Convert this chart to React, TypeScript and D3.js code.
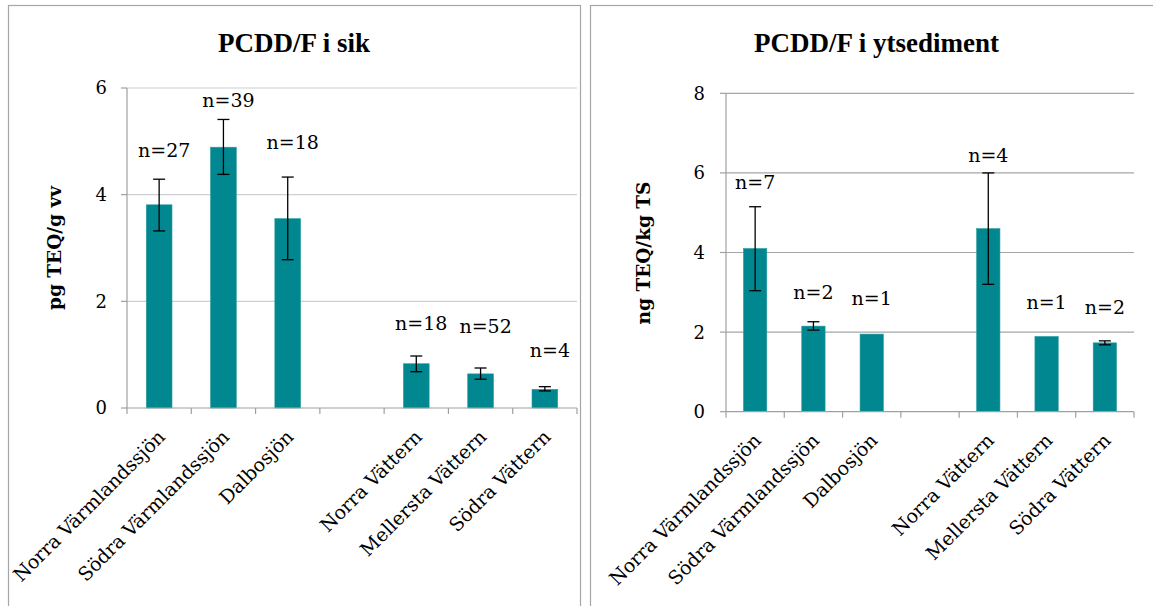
import React from "react";
import * as d3 from "d3";

const categories = [
  "Norra Värmlandssjön",
  "Södra Värmlandssjön",
  "Dalbosjön",
  "",
  "Norra Vättern",
  "Mellersta Vättern",
  "Södra Vättern",
];

// PCDD/F i sik (pg TEQ/g vv)
const fishMean: (number | null)[] = [3.81, 4.89, 3.55, null, 0.83, 0.64, 0.35];
const fishErrLow: (number | null)[] = [3.32, 4.38, 2.78, null, 0.68, 0.54, 0.32];
const fishErrHigh: (number | null)[] = [4.29, 5.41, 4.33, null, 0.975, 0.75, 0.4];
const fishN = ["n=27", "n=39", "n=18", "", "n=18", "n=52", "n=4"];
const fishLabelAt: (number | null)[] = [4.71, 5.65, 4.85, null, 1.46, 1.41, 0.96];
const fishTicks = [0, 2, 4, 6];

// PCDD/F i ytsediment (ng TEQ/kg TS)
const sedMean: (number | null)[] = [4.1, 2.15, 1.95, null, 4.6, 1.89, 1.73];
const sedErrLow: (number | null)[] = [3.04, 2.05, null, null, 3.2, null, 1.68];
const sedErrHigh: (number | null)[] = [5.15, 2.26, null, null, 6.0, null, 1.78];
const sedN = ["n=7", "n=2", "n=1", "", "n=4", "n=1", "n=2"];
const sedLabelAt: (number | null)[] = [5.59, 2.84, 2.68, null, 6.27, 2.57, 2.45];
const sedTicks = [0, 2, 4, 6, 8];

const BAR = "#00878f";
const FONT = "'DejaVu Serif', serif";

type PanelProps = {
  frame: { x: number; y: number; w: number; h: number };
  plot: { x0: number; x1: number; y0: number; y1: number };
  yMax: number;
  ticks: number[];
  title: string;
  titleX: number;
  yTitle: string;
  yTitlePos: [number, number];
  tickLabelX: number;
  labelDx: number;
  mean: (number | null)[];
  lo: (number | null)[];
  hi: (number | null)[];
  nLabels: string[];
  labelAt: (number | null)[];
  gridColor: string;
  axisColor: string;
};

function Panel(p: PanelProps) {
  const x = d3
    .scaleBand<string>()
    .domain(categories.map((_, i) => String(i)))
    .range([p.plot.x0, p.plot.x1])
    .paddingInner(0)
    .paddingOuter(0);
  const y = d3.scaleLinear().domain([0, p.yMax]).range([p.plot.y1, p.plot.y0]);
  const bw = x.bandwidth();
  const barW = bw * 0.4;
  const cap = 6;
  const boundaries = d3.range(categories.length + 1).map((i) => p.plot.x0 + i * bw);

  return (
    <g>
      <rect
        x={p.frame.x + 0.5}
        y={p.frame.y + 0.5}
        width={p.frame.w}
        height={p.frame.h}
        fill="#fff"
        stroke="#a6a6a6"
        strokeWidth={1.2}
      />
      <text
        x={p.titleX}
        y={51.5}
        textAnchor="middle"
        fontFamily="'Liberation Serif', serif"
        fontWeight="bold"
        fontSize={27}
        fill="#000"
      >
        {p.title}
      </text>
      {p.ticks.map((t) => (
        <g key={t}>
          {t > 0 && (
            <line x1={p.plot.x0} x2={p.plot.x1} y1={y(t)} y2={y(t)} stroke={p.gridColor} strokeWidth={1.2} />
          )}
          <line x1={p.plot.x0 - 6} x2={p.plot.x0} y1={y(t)} y2={y(t)} stroke={p.axisColor} strokeWidth={1.2} />
          <text
            x={p.tickLabelX}
            y={y(t)}
            dy="0.36em"
            textAnchor="end"
            fontFamily={FONT}
            fontSize={18}
            fill="#000"
          >
            {t}
          </text>
        </g>
      ))}
      <text
        transform={`translate(${p.yTitlePos[0]},${p.yTitlePos[1]}) rotate(-90)`}
        textAnchor="middle"
        dy="0.35em"
        fontFamily={FONT}
        fontWeight="bold"
        fontSize={18.5}
        fill="#000"
      >
        {p.yTitle}
      </text>
      {categories.map((c, i) => {
        const m = p.mean[i];
        if (m == null) return null;
        const cx = (x(String(i)) as number) + bw / 2;
        return (
          <rect key={"b" + i} x={cx - barW / 2} y={y(m)} width={barW} height={y(0) - y(m)} fill={BAR} stroke="#2a9aa0" strokeWidth={0.6} />
        );
      })}
      <line x1={p.plot.x0} x2={p.plot.x0} y1={p.plot.y0} y2={p.plot.y1} stroke={p.axisColor} strokeWidth={1.2} />
      <line x1={p.plot.x0} x2={p.plot.x1} y1={y(0)} y2={y(0)} stroke={p.axisColor} strokeWidth={1.2} />
      {boundaries.map((bx, i) => (
        <line key={"t" + i} x1={bx} x2={bx} y1={y(0)} y2={y(0) + 6} stroke={p.axisColor} strokeWidth={1.2} />
      ))}
      {categories.map((c, i) => {
        const l = p.lo[i];
        const h = p.hi[i];
        if (l == null || h == null) return null;
        const cx = (x(String(i)) as number) + bw / 2;
        return (
          <g key={"e" + i} stroke="#000" strokeWidth={1.3}>
            <line x1={cx} x2={cx} y1={y(l)} y2={y(h)} />
            <line x1={cx - cap} x2={cx + cap} y1={y(l)} y2={y(l)} />
            <line x1={cx - cap} x2={cx + cap} y1={y(h)} y2={y(h)} />
          </g>
        );
      })}
      {categories.map((c, i) => {
        const la = p.labelAt[i];
        if (la == null) return null;
        const cx = (x(String(i)) as number) + bw / 2;
        return (
          <text key={"n" + i} x={cx + p.labelDx} y={y(la)} textAnchor="middle" fontFamily={FONT} fontSize={19} fill="#000">
            {p.nLabels[i]}
          </text>
        );
      })}
      {categories.map((c, i) => {
        if (!c) return null;
        const cx = (x(String(i)) as number) + bw / 2;
        return (
          <text
            key={"c" + i}
            transform={`translate(${cx + 7},${y(0) + 30}) rotate(-45)`}
            textAnchor="end"
            fontFamily={FONT}
            fontSize={19}
            fill="#000"
          >
            {c}
          </text>
        );
      })}
    </g>
  );
}

export default function App() {
  return (
    <div style={{ position: "fixed", left: 0, top: 0 }}>
      <svg width={1153} height={606} style={{ display: "block", background: "#fff" }}>
        <Panel
          frame={{ x: 8, y: 5, w: 572, h: 640 }}
          plot={{ x0: 127, x1: 577, y0: 88, y1: 408 }}
          yMax={6}
          ticks={fishTicks}
          title="PCDD/F i sik"
          titleX={294}
          yTitle="pg TEQ/g vv"
          yTitlePos={[54.5, 248]}
          tickLabelX={107}
          labelDx={5}
          mean={fishMean}
          lo={fishErrLow}
          hi={fishErrHigh}
          nLabels={fishN}
          labelAt={fishLabelAt}
          gridColor="#cfcfcf"
          axisColor="#a0a0a0"
        />
        <Panel
          frame={{ x: 590, y: 5, w: 620, h: 640 }}
          plot={{ x0: 726, x1: 1134, y0: 93.3, y1: 411.7 }}
          yMax={8}
          ticks={sedTicks}
          title="PCDD/F i ytsediment"
          titleX={876.5}
          yTitle="ng TEQ/kg TS"
          yTitlePos={[644, 253]}
          tickLabelX={705}
          labelDx={0}
          mean={sedMean}
          lo={sedErrLow}
          hi={sedErrHigh}
          nLabels={sedN}
          labelAt={sedLabelAt}
          gridColor="#a6a6a6"
          axisColor="#a0a0a0"
        />
      </svg>
    </div>
  );
}
